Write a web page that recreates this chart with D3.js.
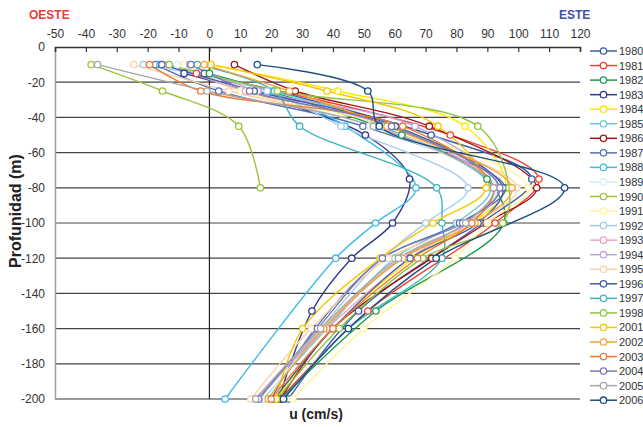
<!DOCTYPE html>
<html>
<head>
<meta charset="utf-8">
<script src="https://cdn.jsdelivr.net/npm/d3@7/dist/d3.min.js"></script>
<style>
  body { margin: 0; background: #fff; }
  text { font-family: "Liberation Sans", Arial, sans-serif; }
</style>
</head>
<body>
<div id="chart"></div>
<script>
// series names and colours (legend order)
var years = ["1980", "1981", "1982", "1983", "1984", "1985", "1986", "1987", "1988", "1989",
  "1990", "1991", "1992", "1993", "1994", "1995", "1996", "1997", "1998",
  "2001", "2002", "2003", "2004", "2005", "2006"];

var colors = ["#3c5ba8", "#ee4236", "#1d9a4b", "#2e3a8c", "#ffe800", "#6dc7da", "#a3161b", "#5670b6", "#3dbbea", "#d4eef5",
  "#9cc43c", "#fff49c", "#a6cbea", "#f29fc5", "#bea5d5", "#fbd3ac", "#3f5dab", "#3cb4bd", "#8dc63f",
  "#f8c600", "#f6a431", "#f07a2c", "#7a78b5", "#a6a6a6", "#1b4f82"];

// each profile: [u (cm/s), depth (m)]
var p1980 = [[-1.6, -15], [71.8, -50], [104.4, -75], [88.2, -100], [48.3, -150], [25.6, -200]];
var p1981 = [[-4.2, -15], [78, -50], [106.7, -75], [92.5, -100], [51.3, -150], [22.9, -200]];
var p1982 = [[0, -15], [62.3, -50], [89.9, -75], [95.3, -100], [53.9, -150], [23, -200]];
var p1983 = [[-8.2, -15], [50.5, -50], [64.8, -75], [59.3, -100], [46.1, -120], [33.2, -150], [22.5, -200]];
var p1984 = [[0.5, -10], [41.6, -25], [82.8, -45], [96, -80], [85, -100], [66, -120], [40, -160], [21.6, -200]];
var p1985 = [[-16.6, -10], [20.5, -25], [56, -45], [91, -80], [80, -100], [60, -120], [38, -160], [17.5, -200]];
var p1986 = [[8.1, -10], [27.8, -25], [71.2, -45], [106, -80], [89.6, -100], [72, -120], [39.9, -160], [23, -200]];
var p1987 = [[-17.5, -10], [3, -25], [49.7, -45], [95.8, -80], [81, -100], [56.2, -120], [34.2, -160], [20, -200]];
var p1988 = [[-16, -10], [19, -25], [43.9, -45], [66.9, -80], [53.8, -100], [40.9, -120], [5.1, -200]];
var p1989 = [[-10.4, -10], [10, -25], [52, -45], [93, -80], [82.8, -100], [63, -120], [37, -160], [18, -200]];
var p1990 = [[-38.3, -10], [-15.2, -25], [9.5, -45], [16.5, -80]];
var p1991 = [[-8.2, -10], [10.4, -25], [58, -45], [103.3, -80], [90, -100], [79.6, -120], [50, -160], [27, -200]];
var p1992 = [[-21.4, -10], [18.7, -25], [42.6, -45], [83.7, -80], [70, -100], [56, -120], [36, -160], [16, -200]];
var p1993 = [[-13.6, -10], [11.7, -25], [58, -45], [92.2, -80], [83, -100], [64.8, -120], [38, -160], [14.6, -200]];
var p1994 = [[-6.4, -10], [15.7, -25], [66.6, -45], [93.6, -80], [84, -100], [62, -120], [37, -160], [15.5, -200]];
var p1995 = [[-24.4, -10], [6.3, -25], [53.1, -45], [99.6, -80], [86, -100], [58, -120], [33, -160], [13.4, -200]];
var p1996 = [[-15.4, -10], [14.5, -25], [60.2, -45], [95, -80], [87, -100], [65, -120], [40, -160], [21, -200]];
var p1997 = [[-3.9, -10], [21, -25], [29.2, -45], [73.6, -80], [75.3, -100], [75.3, -120], [45, -160], [24, -200]];
var p1998 = [[-13, -10], [22, -25], [86.9, -45], [97, -80], [95, -100], [69.1, -120], [42, -160], [22, -200]];
var p2001 = [[0.5, -10], [38.1, -25], [74, -45], [89.6, -80], [72.4, -100], [55.3, -120], [30.2, -160], [21.6, -200]];
var p2002 = [[-1.7, -10], [25.9, -25], [57.5, -45], [98, -80], [86, -100], [62.6, -120], [37, -160], [19, -200]];
var p2003 = [[-19.4, -10], [-2.8, -25], [62.6, -45], [92, -80], [85, -100], [67.4, -120], [40, -160], [20, -200]];
var p2004 = [[-6, -10], [13, -25], [59, -45], [94, -80], [82, -100], [56, -120], [35, -160], [16, -200]];
var p2005 = [[-36.2, -10], [-0.8, -25], [53.1, -45], [92, -80], [83, -100], [61.2, -120], [36, -160], [15, -200]];
var p2006 = [[15.5, -10], [51.3, -25], [55, -45], [115, -80], [73.4, -120], [45, -160], [24, -200]];

var profiles = [p1980, p1981, p1982, p1983, p1984, p1985, p1986, p1987, p1988, p1989,
  p1990, p1991, p1992, p1993, p1994, p1995, p1996, p1997, p1998,
  p2001, p2002, p2003, p2004, p2005, p2006];

var xTicks = [-50, -40, -30, -20, -10, 0, 10, 20, 30, 40, 50, 60, 70, 80, 90, 100, 110, 120];
var yTicks = [0, -20, -40, -60, -80, -100, -120, -140, -160, -180, -200];

var margin = {top: 47, right: 63, bottom: 28, left: 55}
  , width = 643 - margin.left - margin.right
  , height = 427 - margin.top - margin.bottom;

var xScale = d3.scaleLinear()
    .domain([-50, 120])
    .range([0, 525]);

var yScale = d3.scaleLinear()
    .domain([0, -200])
    .range([0, 352]);

// plain hyphen for negative numbers, like the original
var fmt = function(d) { return String(d); };

var svg = d3.select("#chart").append("svg")
    .attr("width", 643)
    .attr("height", 427);

var g = svg.append("g")
    .attr("transform", "translate(" + margin.left + "," + margin.top + ")");

// horizontal grid lines
g.selectAll(".grid").data(yTicks.filter(function(d) { return d != 0 && d != -200; })).enter()
  .append("line")
    .attr("class", "grid")
    .attr("x1", 0).attr("x2", xScale(120))
    .attr("y1", function(d) { return yScale(d); })
    .attr("y2", function(d) { return yScale(d); })
    .attr("stroke", "#444")
    .attr("stroke-width", 1.2);

// bottom line and left axis (gray)
g.append("line")
    .attr("x1", 0).attr("x2", xScale(120))
    .attr("y1", yScale(-200)).attr("y2", yScale(-200))
    .attr("stroke", "#9a9a9a").attr("stroke-width", 2);

var yAxis = d3.axisLeft(yScale).tickValues(yTicks).tickFormat(fmt).tickSize(0).tickPadding(10);
var ya = g.append("g").call(yAxis);
ya.select(".domain").attr("stroke", "#a0a0a0").attr("stroke-width", 1.5);
ya.selectAll("text").style("font-size", "12px").attr("fill", "#333");

// vertical zero line
g.append("line")
    .attr("x1", xScale(0)).attr("x2", xScale(0))
    .attr("y1", 0).attr("y2", yScale(-200))
    .attr("stroke", "#222").attr("stroke-width", 1.2);

// top axis
var xAxis = d3.axisTop(xScale).tickValues(xTicks).tickFormat(fmt).tickSizeInner(-5).tickSizeOuter(-5).tickPadding(9);
var xa = g.append("g").call(xAxis);
xa.select(".domain").attr("stroke", "#333").attr("stroke-width", 1.5);
xa.selectAll(".tick line").attr("stroke", "#333").attr("stroke-width", 1.2);
xa.selectAll("text").style("font-size", "12px").attr("fill", "#333");

// profiles
var line = d3.line()
    .x(function(d) { return xScale(d[0]); })
    .y(function(d) { return yScale(d[1]); })
    .curve(d3.curveCatmullRom.alpha(0.5));

profiles.forEach(function(p, i) {
  g.append("path")
      .datum(p)
      .attr("fill", "none")
      .attr("stroke", colors[i])
      .attr("stroke-width", 1.4)
      .attr("d", line);
});

profiles.forEach(function(p, i) {
  g.selectAll(null).data(p).enter().append("circle")
      .attr("cx", function(d) { return xScale(d[0]); })
      .attr("cy", function(d) { return yScale(d[1]); })
      .attr("r", 3.2)
      .attr("fill", "#fff")
      .attr("stroke", colors[i])
      .attr("stroke-width", 1.3);
});

// titles
svg.append("text").attr("x", 29).attr("y", 19).text("OESTE")
    .style("font-size", "12px").style("font-weight", "bold").attr("fill", "#ee3b3b");
svg.append("text").attr("x", 559).attr("y", 19).text("ESTE")
    .style("font-size", "12px").style("font-weight", "bold").attr("fill", "#3f51a8");
svg.append("text")
    .attr("text-anchor", "middle")
    .attr("transform", "translate(21,211) rotate(-90)")
    .text("Profunidad  (m)")
    .style("font-size", "16px").style("font-weight", "bold").attr("fill", "#222");
svg.append("text")
    .attr("text-anchor", "middle")
    .attr("x", 316).attr("y", 419)
    .text("u (cm/s)")
    .style("font-size", "14px").style("font-weight", "bold").attr("fill", "#222");

// legend
var legend = svg.append("g").attr("transform", "translate(590,51)");
years.forEach(function(y, i) {
  var row = legend.append("g").attr("transform", "translate(0," + (i * 14.55) + ")");
  row.append("line").attr("x1", 0).attr("x2", 27).attr("y1", 0).attr("y2", 0)
      .attr("stroke", colors[i]).attr("stroke-width", 1.5);
  row.append("circle").attr("cx", 13.5).attr("cy", 0).attr("r", 3.2)
      .attr("fill", "#fff").attr("stroke", colors[i]).attr("stroke-width", 1.3);
  row.append("text").attr("x", 29).attr("y", 4).text(y)
      .style("font-size", "11px").attr("fill", "#333");
});
</script>
</body>
</html>
